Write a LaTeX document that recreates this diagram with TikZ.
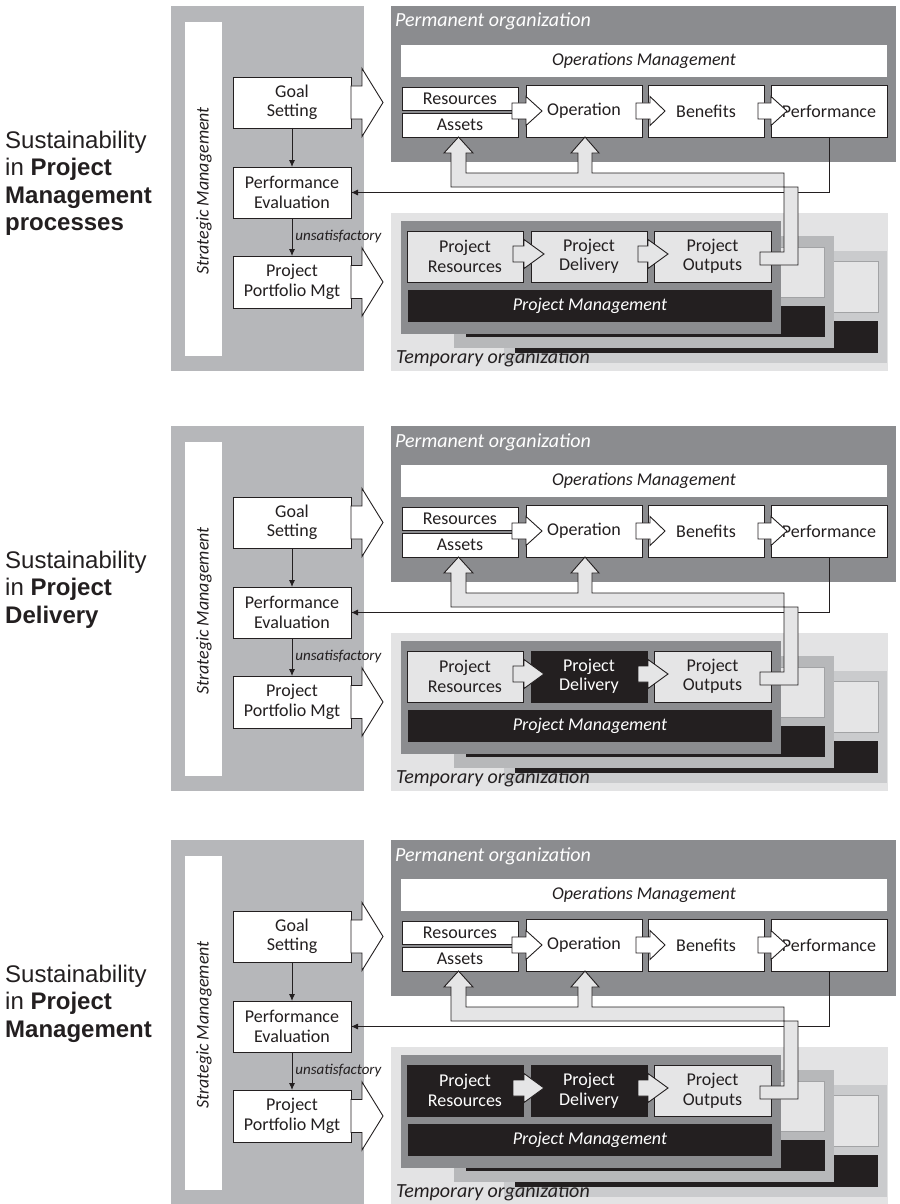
\documentclass[tikz,border=0pt]{standalone}
\usepackage{fontspec}
\setmainfont{Carlito}
\newfontfamily\labelfont{Liberation Sans}
\usetikzlibrary{arrows.meta,calc}

\definecolor{ink}{HTML}{231F20}
\definecolor{stratbg}{HTML}{B6B7BA}
\definecolor{permbg}{HTML}{8B8C8F}
\definecolor{tempbg}{HTML}{E3E3E4}
\definecolor{layertwo}{HTML}{B7B8BA}
\definecolor{layerthree}{HTML}{CACBCD}
\definecolor{pale}{HTML}{E5E5E6}
\definecolor{paleedge}{HTML}{A2A3A5}

\tikzset{
  box/.style={draw=ink, line width=0.9pt, fill=white, inner sep=0pt, outer sep=0pt,
    anchor=north west, align=center, text=ink,
    font=\fontsize{18}{19.5}\selectfont},
  wide/.style={minimum width=116pt, minimum height=51pt},
  pbox/.style={box, wide, fill=pale},
  dbox/.style={box, wide, fill=ink, text=white},
  fat/.style={draw=ink, line width=0.9pt, fill=white, line join=miter},
  palefat/.style={fat, fill=pale},
  feed/.style={draw=ink, line width=0.9pt, fill=pale, line join=miter},
  link/.style={draw=ink, line width=0.9pt, -{Latex[length=7pt,width=6pt]}},
  orgtitle/.style={font=\fontsize{20}{24}\selectfont\itshape, anchor=base west, inner sep=0pt},
  side/.style={font=\labelfont\fontsize{24}{27}\selectfont, anchor=base west,
    inner sep=0pt, text=ink},
}

% horizontal block arrow: [style]{tail centre}{shaft length}{head length}{shaft half height}{head half height}
\newcommand\harr[6][fat]{%
  \draw[#1] #2 ++(0,-#5) -- ++(#3,0) -- ++(0,{#5-#6}) -- ++(#4,#6)
    -- ++(-#4,#6) -- ++(0,{#5-#6}) -- ++(-#3,0) -- cycle;}

% one complete process panel: {prefix}{vertical offset}{style of Project Resources}{style of Project Delivery}
\newcommand\panel[4]{%
\begin{scope}[shift={(0,#2)}]
  % strategic management column
  \fill[stratbg] (171,6) rectangle (364,371);
  \fill[white] (185,22) rectangle (222,356);
  \node[rotate=90, inner sep=0pt, text=ink, font=\fontsize{18}{20}\selectfont\itshape]
    (#1sm) at (204,191) {Strategic Management};
  \node[box, minimum width=118pt, minimum height=51pt] (#1goal) at (233,77) {Goal\\Setting};
  \node[box, minimum width=118pt, minimum height=51pt] (#1pe) at (233,167) {Performance\\Evaluation};
  \node[box, minimum width=118pt, minimum height=52pt] (#1ppm) at (233,256) {Project\\Portfolio Mgt};
  \draw[link] (#1goal) -- (#1pe);
  \draw[link] (#1pe) -- node[right, inner sep=3pt, text=ink,
    font=\fontsize{15}{17}\selectfont\itshape] (#1unsat) {unsatisfactory} (#1ppm);

  % permanent organization
  \fill[permbg] (391,6) rectangle (896,162);
  \node[orgtitle, text=white] (#1permt) at (395,27) {Permanent organization};
  \node[box, draw=none, minimum width=486pt, minimum height=32pt,
    font=\fontsize{18}{19.5}\selectfont\itshape] (#1opm) at (401,45) {Operations Management};
  \node[box, minimum width=116pt, minimum height=23pt] (#1res) at (402,87) {Resources};
  \node[box, minimum width=116pt, minimum height=24pt] (#1ast) at (402,113) {Assets};
  \node[box, minimum width=116pt, minimum height=52pt] (#1op) at (526,85) {Operation};
  \node[box, minimum width=116pt, minimum height=52pt] (#1ben) at (648,85) {Benefits};
  \node[box, minimum width=116pt, minimum height=52pt] (#1perf) at (771,85) {Performance};
  \harr{($(#1op.west)+(-14,0)$)}{14}{16}{8}{14.5}
  \harr{($(#1ben.west)+(-12,0)$)}{14}{15}{8}{14.5}
  \harr{($(#1perf.west)+(-13,0)$)}{13}{16}{8}{14.5}

  % temporary organization with stacked projects
  \fill[tempbg] (391,213) rectangle (888,371);
  \fill[layerthree] (504,251) rectangle (887,363);
  \draw[paleedge, fill=pale, line width=0.9pt] (514,261) rectangle (878,312);
  \fill[ink] (515,321) rectangle (878,353);
  \fill[layertwo] (454,236) rectangle (834,348);
  \draw[paleedge, fill=pale, line width=0.9pt] (464,247) rectangle (824,297);
  \fill[ink] (466,306) rectangle (825,337);
  \fill[permbg] (401,221) rectangle (781,334);
  \node[orgtitle, text=ink] (#1tempt) at (396,363) {Temporary organization};
  \node[#3] (#1pr) at (407,231) {Project\\Resources};
  \node[#4] (#1pd) at (531,231) {Project\\Delivery};
  \node[pbox, minimum width=117pt] (#1po) at (654,231) {Project\\Outputs};
  \node[box, draw=none, fill=ink, text=white, minimum width=364pt, minimum height=32pt,
    font=\fontsize{18}{19.5}\selectfont\itshape] (#1pm) at (408,290) {Project Management};
  \harr[palefat]{($(#1pr.east)+(-10,-2.5)$)}{11}{20}{8}{14.5}
  \harr[palefat]{($(#1pd.east)+(-9,-2.5)$)}{10}{20}{8}{14.5}

  % evaluation feedback and delivery of outputs
  \draw[link] (#1perf.south) |- (#1pe.east);
  \draw[feed] (760,252) -- (784,252) -- (784,173) -- (592,173) -- (592,153) -- (599,153)
    -- (585,137) -- (571,153) -- (578,153) -- (578,173) -- (466,173) -- (466,153)
    -- (473,153) -- (458.5,137) -- (444,153) -- (451,153) -- (451,187) -- (798,187)
    -- (798,265) -- (760,265) -- cycle;

  % strategic decisions passed on to the organizations
  \harr{(#1goal.east)}{11}{21}{16.5}{34}
  \harr{(#1ppm.east)}{11}{21}{16.5}{34}
\end{scope}}

\begin{document}
\begin{tikzpicture}[x=1pt, y=-1pt]
  \useasboundingbox (0,0) rectangle (899,1204);

  \panel{a}{0}{pbox}{pbox}
  \panel{b}{420}{pbox}{dbox}
  \panel{c}{834}{dbox}{dbox}

  \node[side] (la1) at (5,148.3) {Sustainability};
  \node[side] (la2) at (5,175.6) {in \textbf{Project}};
  \node[side] (la3) at (5,203) {\textbf{Management}};
  \node[side] (la4) at (5,230.3) {\textbf{processes}};

  \node[side] (lb1) at (5,568.3) {Sustainability};
  \node[side] (lb2) at (5,595.6) {in \textbf{Project}};
  \node[side] (lb3) at (5,623) {\textbf{Delivery}};

  \node[side] (lc1) at (5,982.3) {Sustainability};
  \node[side] (lc2) at (5,1009.6) {in \textbf{Project}};
  \node[side] (lc3) at (5,1037) {\textbf{Management}};
\end{tikzpicture}
\end{document}
